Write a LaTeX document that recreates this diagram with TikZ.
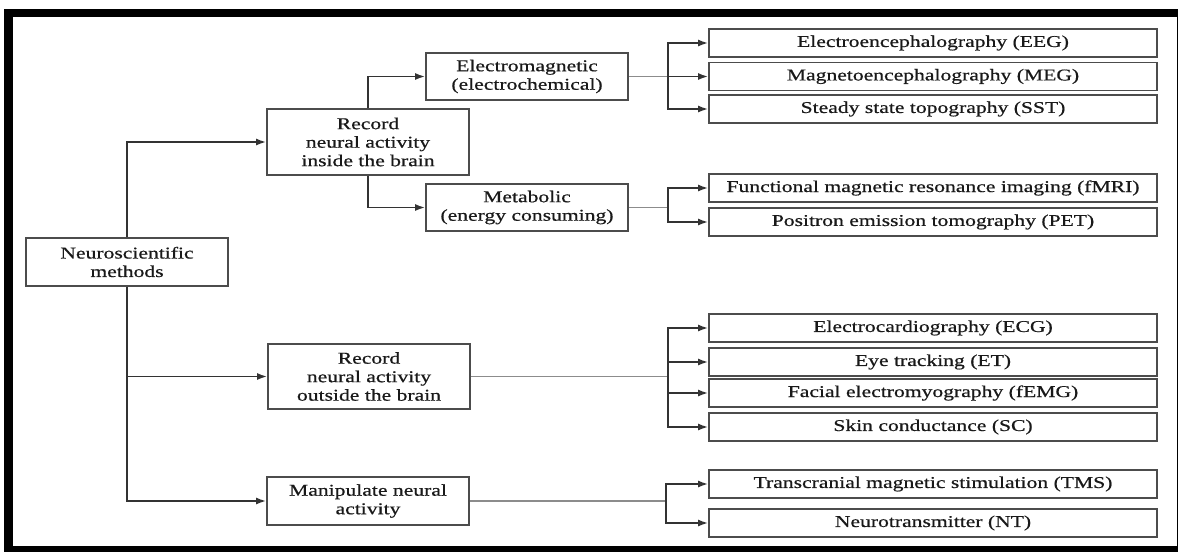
\documentclass[tikz,border=0pt]{standalone}
\usepackage{fontspec}
\setmainfont[FakeStretch=1.31,FakeBold=0.6]{Liberation Serif}
\usepackage{xcolor}
\usepackage{tikz}
\usetikzlibrary{arrows.meta}

\begin{document}
\begin{tikzpicture}[x=1pt,y=-1pt,
 font=\fontsize{16.5}{18.5}\selectfont,
 box/.style={draw=black!70, line width=1.8pt, text=black!90, align=center, inner sep=0pt, minimum width=202pt},
 leaf/.style={box, minimum width=448pt, minimum height=28pt},
 arr/.style={draw=black!80, line width=1.6pt, -{Latex[length=10pt,width=7pt]}},
 feed/.style={draw=black!45, line width=1.3pt}]
\useasboundingbox (0,0) rectangle (1180,552);
\fill[black] (4,9) rectangle (1178,552);
\fill[white] (13,17) rectangle (1177,546);

\node[box, minimum height=48pt] (neuro) at (127,262) {Neuroscientific\\methods};
\node[box, minimum height=66pt] (inside) at (368,142) {Record\\neural activity\\inside the brain};
\node[box, minimum height=65pt] (outside) at (369,376.5) {Record\\neural activity\\outside the brain};
\node[box, minimum height=48pt] (manip) at (368,501) {Manipulate neural\\activity};
\node[box, minimum height=47pt] (emag) at (527,76.5) {Electromagnetic\\(electrochemical)};
\node[box, minimum height=47pt] (metab) at (527,207.5) {Metabolic\\(energy consuming)};

\node[leaf] (eeg) at (933,43) {Electroencephalography (EEG)};
\node[leaf] (meg) at (933,76.5) {Magnetoencephalography (MEG)};
\node[leaf] (sst) at (933,109) {Steady state topography (SST)};
\node[leaf] (fmri) at (933,188) {Functional magnetic resonance imaging (fMRI)};
\node[leaf] (pet) at (933,222) {Positron emission tomography (PET)};
\node[leaf] (ecg) at (933,328) {Electrocardiography (ECG)};
\node[leaf] (et) at (933,362) {Eye tracking (ET)};
\node[leaf] (femg) at (933,393) {Facial electromyography (fEMG)};
\node[leaf] (sc) at (933,427) {Skin conductance (SC)};
\node[leaf] (tms) at (933,484) {Transcranial magnetic stimulation (TMS)};
\node[leaf] (nt) at (933,523) {Neurotransmitter (NT)};

\draw[arr] (neuro.north) |- (inside.west);
\draw[arr] (neuro.south) |- (outside.west);
\draw[arr] (neuro.south) |- (manip.west);
\draw[arr] (inside.north) |- (emag.west);
\draw[arr] (inside.south) |- (metab.west);

\coordinate (bemag) at (668,76.5);
\coordinate (bmetab) at (668,207.5);
\coordinate (bout) at (668,376.5);
\coordinate (bmanip) at (666,501);
\draw[feed] (emag.east) -- (bemag);
\draw[feed] (metab.east) -- (bmetab);
\draw[feed] (outside.east) -- (bout);
\draw[feed] (manip.east) -- (bmanip);
\foreach \n in {eeg,meg,sst} \draw[arr] (bemag) |- (\n.west);
\foreach \n in {fmri,pet} \draw[arr] (bmetab) |- (\n.west);
\foreach \n in {ecg,et,femg,sc} \draw[arr] (bout) |- (\n.west);
\foreach \n in {tms,nt} \draw[arr] (bmanip) |- (\n.west);
\end{tikzpicture}
\end{document}
